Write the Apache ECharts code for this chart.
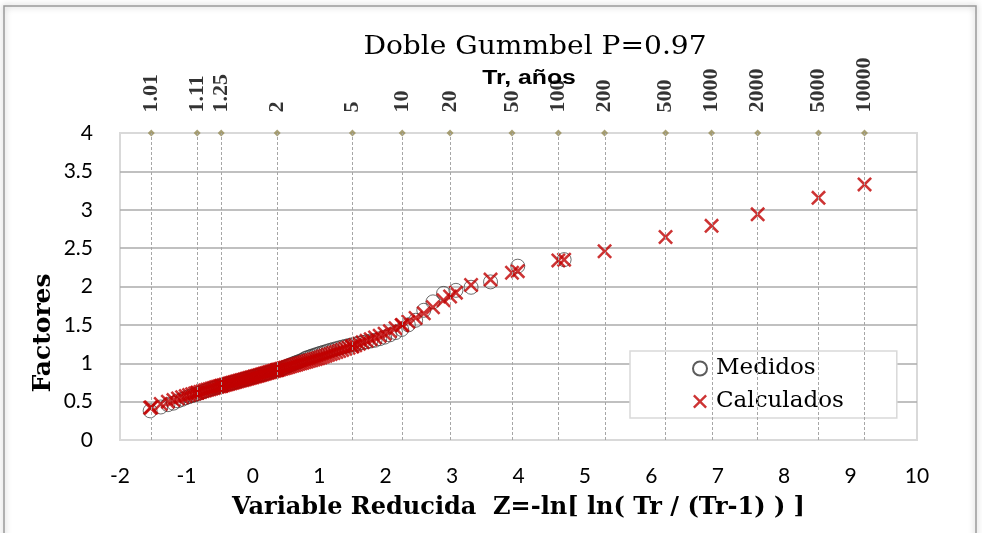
<!DOCTYPE html>
<html><head><meta charset="utf-8">
<script src="https://cdn.jsdelivr.net/npm/echarts@6/dist/echarts.min.js"></script>
<style>html,body{margin:0;padding:0;background:#fff}#c{width:982px;height:533px}</style>
</head><body><div id="c"></div>
<script>
// Reduced variable Z of the measured sample (ascending)
const zMedidos = [
-1.546,-1.386,-1.279,-1.196,-1.126,-1.065,-1.010,-0.960,-0.914,-0.871,
-0.830,-0.791,-0.754,-0.719,-0.685,-0.652,-0.620,-0.588,-0.558,-0.528,
-0.499,-0.470,-0.442,-0.414,-0.387,-0.360,-0.333,-0.307,-0.281,-0.255,
-0.229,-0.203,-0.178,-0.153,-0.128,-0.102,-0.077,-0.052,-0.027,-0.003,
0.023,0.047,0.072,0.097,0.123,0.148,0.173,0.198,0.224,0.249,
0.275,0.301,0.327,0.353,0.380,0.406,0.433,0.461,0.488,0.516,
0.544,0.572,0.601,0.630,0.660,0.690,0.720,0.751,0.783,0.815,
0.847,0.880,0.914,0.949,0.984,1.020,1.057,1.095,1.133,1.173,
1.214,1.257,1.300,1.345,1.392,1.440,1.490,1.542,1.596,1.653,
1.712,1.775,1.840,1.910,1.984,2.064,2.149,2.241,2.341,2.451,
2.574,2.712,2.871,3.058,3.286,3.579,3.989,4.687];
// Measured factors
const yMedidos = [
0.38,0.43,0.46,0.48,0.51,0.53,0.55,0.565,0.58,0.59,
0.605,0.615,0.63,0.64,0.65,0.66,0.67,0.675,0.685,0.69,
0.70,0.705,0.715,0.72,0.73,0.735,0.74,0.745,0.75,0.76,
0.765,0.77,0.78,0.785,0.79,0.795,0.80,0.81,0.815,0.82,
0.825,0.83,0.84,0.845,0.85,0.855,0.86,0.87,0.875,0.88,
0.89,0.895,0.90,0.91,0.915,0.92,0.93,0.94,0.95,0.96,
0.97,0.98,0.99,1.00,1.01,1.02,1.03,1.04,1.06,1.07,
1.08,1.09,1.10,1.11,1.12,1.13,1.14,1.15,1.16,1.17,
1.18,1.19,1.20,1.21,1.22,1.23,1.24,1.25,1.26,1.27,
1.28,1.29,1.30,1.32,1.34,1.37,1.40,1.44,1.50,1.56,
1.69,1.80,1.91,1.95,1.99,2.06,2.265,2.35];
// Calculated factors at the measured Z
const yCalcMed = [
0.42,0.47,0.50,0.52,0.54,0.557,0.572,0.585,0.597,0.607,
0.617,0.627,0.637,0.645,0.654,0.662,0.670,0.678,0.686,0.693,
0.700,0.707,0.714,0.721,0.727,0.734,0.740,0.746,0.753,0.759,
0.765,0.771,0.777,0.783,0.789,0.796,0.802,0.808,0.814,0.819,
0.826,0.832,0.838,0.844,0.851,0.857,0.863,0.870,0.876,0.882,
0.889,0.895,0.902,0.908,0.915,0.922,0.928,0.935,0.942,0.949,
0.956,0.963,0.970,0.978,0.985,0.993,1.000,1.008,1.016,1.024,
1.032,1.040,1.049,1.057,1.066,1.076,1.087,1.099,1.110,1.122,
1.134,1.147,1.160,1.174,1.188,1.202,1.217,1.234,1.253,1.272,
1.292,1.314,1.336,1.359,1.385,1.418,1.456,1.496,1.54,1.59,
1.65,1.73,1.82,1.92,2.02,2.09,2.20,2.35];
// Return periods (top axis) and their reduced variable
const trLabels = ['1.01','1.11','1.25','2','5','10','20','50','100','200','500','1000','2000','5000','10000'];
const zTr = [-1.529,-0.838,-0.476,0.367,1.500,2.250,2.970,3.902,4.600,5.296,6.214,6.907,7.601,8.517,9.210];
// Calculated factors at the return periods
const yCalcTr = [0.425,0.615,0.705,0.912,1.22,1.50,1.87,2.18,2.34,2.46,2.645,2.79,2.94,3.155,3.33];
const yTopAxis = 4;

const xSymbol = 'path://M0,12L12,0L50,38L88,0L100,12L62,50L100,88L88,100L50,62L12,100L0,88L38,50Z';

const medData = zMedidos.map((z, i) => [z, yMedidos[i]]);
const calcData = zMedidos.map((z, i) => [z, yCalcMed[i]]).concat(zTr.map((z, i) => [z, yCalcTr[i]]));
const trData = zTr.map((z, i) => [z, yTopAxis, trLabels[i]]);

const chart = echarts.init(document.getElementById('c'), null, {renderer: 'canvas'});
chart.setOption({
  animation: false,
  backgroundColor: '#ffffff',
  graphic: [
    {type: 'rect', silent: true, z: -10, shape: {x: 4, y: 6, width: 972, height: 560},
     style: {fill: 'none', stroke: '#9A9A9A', lineWidth: 1.5, shadowBlur: 6, shadowColor: 'rgba(0,0,0,0.35)'}},
    {type: 'text', x: 535, y: 47, scaleX: 1.08, silent: true,
     style: {text: 'Doble Gummbel P=0.97', fontFamily: 'DejaVu Serif', fontSize: 26, fill: '#000', align: 'center', verticalAlign: 'middle'}},
    {type: 'text', x: 529, y: 78, scaleX: 1.24, silent: true,
     style: {text: 'Tr, años', fontFamily: 'Liberation Sans', fontWeight: 'bold', fontSize: 20, fill: '#000', align: 'center', verticalAlign: 'middle'}}
  ],
  grid: {left: 120, right: 65, top: 133, bottom: 93, show: true, borderColor: '#D9D9D9', borderWidth: 2, backgroundColor: 'transparent'},
  xAxis: {
    type: 'value', min: -2, max: 10, interval: 1,
    axisLine: {show: false}, axisTick: {show: false}, splitLine: {show: false},
    axisLabel: {fontFamily: 'Lato', fontSize: 21, color: '#000', margin: 26},
    name: 'Variable Reducida  Z=-ln[ ln( Tr / (Tr-1) ) ]', nameLocation: 'middle', nameGap: 56,
    nameTextStyle: {fontFamily: 'DejaVu Serif', fontWeight: 'bold', fontSize: 24, color: '#000'}
  },
  yAxis: {
    type: 'value', min: 0, max: 4, interval: 0.5,
    axisLine: {show: false}, axisTick: {show: false},
    splitLine: {show: true, showMinLine: false, showMaxLine: false, lineStyle: {color: '#ABABAB', width: 1.5}},
    axisLabel: {fontFamily: 'Lato', fontSize: 21, color: '#000', margin: 27},
    name: 'Factores', nameLocation: 'middle', nameGap: 64, nameMoveOverlap: false,
    nameTextStyle: {fontFamily: 'DejaVu Serif', fontWeight: 'bold', fontSize: 25, color: '#000', padding: [0, 93, 0, 0]}
  },
  legend: {
    data: ['Medidos', 'Calculados'], orient: 'vertical', left: 630, top: 351,
    padding: [6, 53, 5, 62], itemWidth: 14, itemHeight: 14, itemGap: 10,
    backgroundColor: '#fff', borderColor: '#D9D9D9', borderWidth: 1.5, selectedMode: false,
    textStyle: {fontFamily: 'DejaVu Serif', fontSize: 23, color: '#000', padding: [0, 0, 0, 4]}
  },
  series: [
    {
      name: 'Tr', type: 'scatter', data: trData, symbol: 'diamond', symbolSize: 7, clip: false, silent: true,
      itemStyle: {color: '#948A54'},
      label: {show: true, position: 'top', distance: 17, rotate: 90, align: 'left', verticalAlign: 'middle',
              formatter: p => p.data[2], fontFamily: 'Liberation Serif', fontWeight: 'bold', fontSize: 22, color: '#000'},
      markLine: {silent: true, symbol: 'none', label: {show: false},
                 lineStyle: {color: '#A6A6A6', type: [3, 2], width: 1},
                 data: zTr.map(z => ({xAxis: z}))}
    },
    {
      name: 'Medidos', type: 'scatter', data: medData, symbol: 'circle', symbolSize: 14, silent: true,
      itemStyle: {color: 'rgba(0,0,0,0)', borderColor: '#333', borderWidth: 0.9}
    },
    {
      name: 'Calculados', type: 'scatter', data: calcData, symbol: xSymbol, symbolSize: 15, silent: true,
      itemStyle: {color: '#C00000'}
    }
  ]
});
</script>
</body></html>
